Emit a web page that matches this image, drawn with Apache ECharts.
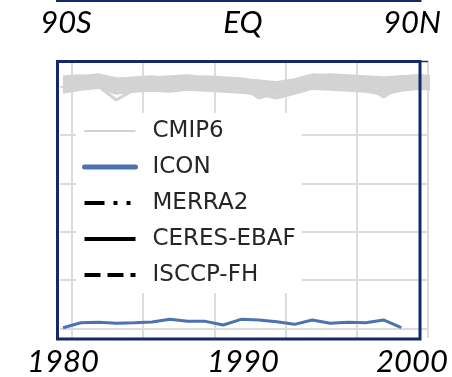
<!DOCTYPE html>
<html>
<head>
<meta charset="utf-8">
<script src="https://cdn.jsdelivr.net/npm/echarts@6/dist/echarts.min.js"></script>
<style>
  html, body { margin: 0; padding: 0; background: #fff; }
  #chart { width: 452px; height: 377px; }
</style>
</head>
<body>
<div id="chart"></div>
<script>
// Years of the annual means
const years = [1980, 1981, 1982, 1983, 1984, 1985, 1986, 1987, 1988, 1989,
               1990, 1991, 1992, 1993, 1994, 1995, 1996, 1997, 1998, 1999,
               2000, 2001];

// ICON run (1980-1999)
const icon = [50.08, 50.60, 50.64, 50.54, 50.60, 50.67, 50.95, 50.74, 50.74, 50.36,
              50.95, 50.88, 50.70, 50.43, 50.88, 50.54, 50.64, 50.60, 50.88, 50.08];

// CMIP6 ensemble members
const cmip6 = [
  [75.6, 75.9, 75.7, 75.2, 75.4, 75.5, 75.6, 75.7, 75.5, 75.4, 75.3, 75.0, 74.9, 75.2, 75.8, 75.9, 75.7, 75.6, 75.3, 75.8, 75.9, 75.8],
  [75.0, 75.3, 75.6, 75.1, 75.2, 75.3, 75.2, 75.4, 75.3, 75.2, 75.1, 74.6, 74.7, 74.9, 75.5, 75.6, 75.4, 75.3, 74.9, 75.5, 75.6, 75.5],
  [74.6, 74.8, 75.0, 73.6, 74.7, 74.9, 74.8, 75.0, 74.9, 74.8, 74.7, 74.3, 73.9, 74.4, 75.1, 75.0, 74.9, 74.8, 74.5, 74.9, 75.1, 75.0],
  [75.9, 76.0, 76.2, 75.8, 75.8, 75.9, 76.0, 76.1, 75.9, 75.8, 75.7, 75.6, 75.3, 75.5, 76.1, 76.2, 76.1, 76.0, 75.9, 76.0, 76.1, 76.0],
  [75.3, 75.5, 75.4, 75.0, 75.1, 75.0, 75.2, 75.1, 75.0, 75.1, 74.9, 74.8, 74.5, 74.7, 75.2, 75.3, 75.2, 75.1, 73.9, 75.1, 75.3, 75.2],
  [74.9, 75.1, 75.3, 74.8, 74.9, 75.0, 74.9, 75.1, 75.2, 75.0, 75.0, 73.8, 74.4, 74.8, 75.3, 75.2, 75.0, 75.2, 74.8, 75.2, 75.3, 75.1],
  [75.7, 75.6, 75.9, 75.5, 75.6, 75.7, 75.5, 75.6, 75.7, 75.6, 75.5, 75.3, 75.1, 75.4, 75.9, 75.7, 75.8, 75.5, 75.6, 75.7, 75.6, 75.7],
  [74.4, 74.7, 74.9, 74.3, 74.5, 74.6, 74.5, 74.7, 74.6, 74.5, 74.4, 74.2, 73.8, 74.3, 74.8, 74.7, 74.6, 74.5, 74.2, 74.6, 74.8, 74.7],
  [75.2, 75.7, 75.8, 75.4, 75.5, 75.4, 75.6, 75.3, 75.4, 75.5, 75.3, 75.2, 74.9, 75.0, 75.7, 75.8, 75.5, 75.4, 75.3, 75.6, 75.4, 75.5],
  [75.4, 75.2, 75.5, 75.3, 75.3, 75.2, 75.3, 75.5, 75.1, 75.2, 75.4, 75.1, 74.3, 75.0, 75.4, 75.5, 75.3, 75.6, 75.1, 75.3, 75.5, 75.4],
  [74.8, 75.0, 75.1, 74.6, 74.8, 74.7, 75.0, 74.8, 74.9, 74.7, 74.8, 74.5, 74.2, 74.6, 75.0, 74.9, 75.0, 74.7, 74.6, 74.8, 74.9, 74.8],
  [76.0, 76.1, 75.9, 75.7, 75.9, 76.0, 75.8, 75.9, 76.0, 75.9, 75.8, 75.5, 75.4, 75.7, 76.2, 76.1, 75.9, 75.8, 75.7, 76.0, 76.1, 75.9]
];

// Observational / reanalysis products (no values in this window)
const merra2 = [];
const ceresEbaf = [];
const isccpFh = [];

// Grid positions and annotation texts
const xGridValues = [1980.5, 1984.5, 1988.5, 1992.5, 1996.5, 2000.5];
const yGridValues = [50, 55, 60, 65, 70, 75];
const latLabels = ['90S', 'EQ', '90N'];
const yearLabels = ['1980', '1990', '2000'];
const legendNames = ['CMIP6', 'ICON', 'MERRA2', 'CERES-EBAF', 'ISCCP-FH'];

const pair = (xs, ys) => ys.map((v, i) => [xs[i], v]);

const NAVY = '#14286b';
const GRID = '#dcdcdc';

// Line styles per product
const styles = {
  CMIP6: { color: '#d3d3d3', width: 3 },
  ICON: { color: '#4c72b0', width: 3 },
  MERRA2: { color: '#000', width: 4, type: [20, 9, 4, 9, 4, 9] },
  'CERES-EBAF': { color: '#000', width: 4, type: 'solid' },
  'ISCCP-FH': { color: '#000', width: 4, type: [16, 7] }
};

const series = [];
cmip6.forEach(m => {
  series.push({
    name: 'CMIP6', type: 'line', data: pair(years, m),
    symbol: 'none', silent: true, z: 2,
    lineStyle: styles.CMIP6, itemStyle: { color: styles.CMIP6.color }
  });
});
series.push({
  name: 'ICON', type: 'line', data: pair(years, icon), symbol: 'none', z: 3,
  lineStyle: styles.ICON, itemStyle: { color: styles.ICON.color }
});
[['MERRA2', merra2], ['CERES-EBAF', ceresEbaf], ['ISCCP-FH', isccpFh]].forEach(([name, vals]) => {
  series.push({
    name, type: 'line', data: pair(years, vals), symbol: 'none',
    lineStyle: styles[name], itemStyle: { color: '#000' }
  });
});

const labelFont = 'italic 31px Lato';
const latCenters = [66, 243, 412];
const yearCenters = [63, 243, 412];
const graphics = [];
latLabels.forEach((t, i) => graphics.push({
  type: 'text', x: latCenters[i], y: 23, z: 20,
  style: { text: t, font: labelFont, fill: '#000', align: 'center', verticalAlign: 'middle' }
}));
yearLabels.forEach((t, i) => graphics.push({
  type: 'text', x: yearCenters[i], y: 362, z: 20,
  style: { text: t, font: labelFont, fill: '#000', align: 'center', verticalAlign: 'middle' }
}));
// Panel frames
graphics.push({
  type: 'rect', z: 30, silent: true,
  shape: { x: 57.5, y: 61.5, width: 362.5, height: 277.5 },
  style: { fill: 'none', stroke: NAVY, lineWidth: 3 }
});
graphics.push({
  type: 'rect', z: 30, silent: true,
  shape: { x: 57.5, y: -60, width: 362.5, height: 60.5 },
  style: { fill: 'none', stroke: NAVY, lineWidth: 3 }
});
// Top spine stub to the right of the frame
graphics.push({
  type: 'line', z: 25, silent: true,
  shape: { x1: 420, y1: 61.5, x2: 428, y2: 61.5 },
  style: { stroke: '#333', lineWidth: 1.5 }
});

const legendLine = {
  CMIP6: { color: '#d3d3d3', width: 2 },
  ICON: { color: '#4c72b0', width: 5, cap: 'round' },
  MERRA2: styles.MERRA2,
  'CERES-EBAF': styles['CERES-EBAF'],
  'ISCCP-FH': styles['ISCCP-FH']
};

const chart = echarts.init(document.getElementById('chart'), null, { renderer: 'canvas' });
chart.setOption({
  animation: false,
  backgroundColor: '#fff',
  grid: { left: 60, right: 24, top: 61, bottom: 39, containLabel: false },
  xAxis: {
    type: 'value', min: 1979.83, max: 2000.5,
    axisLine: { show: false },
    axisTick: { show: false, customValues: xGridValues },
    axisLabel: { show: false },
    splitLine: { show: true, lineStyle: { color: GRID, width: 2 } }
  },
  yAxis: {
    type: 'value', min: 49.02, max: 77.63,
    axisLine: { show: false },
    axisTick: { show: false, customValues: yGridValues },
    axisLabel: { show: false },
    splitLine: { show: true, lineStyle: { color: GRID, width: 2 } }
  },
  legend: {
    orient: 'vertical', left: 76, top: 113,
    backgroundColor: '#fff',
    padding: 6,
    itemWidth: 51, itemHeight: 20, itemGap: 12,
    selectedMode: false,
    itemStyle: { opacity: 0 },
    textStyle: {
      fontFamily: 'DejaVu Sans', fontSize: 23, color: '#262626',
      lineHeight: 24, padding: [0, 0, 0, 12]
    },
    data: legendNames.map(n => ({ name: n, lineStyle: legendLine[n] }))
  },
  graphic: graphics,
  series: series
});
</script>
</body>
</html>
